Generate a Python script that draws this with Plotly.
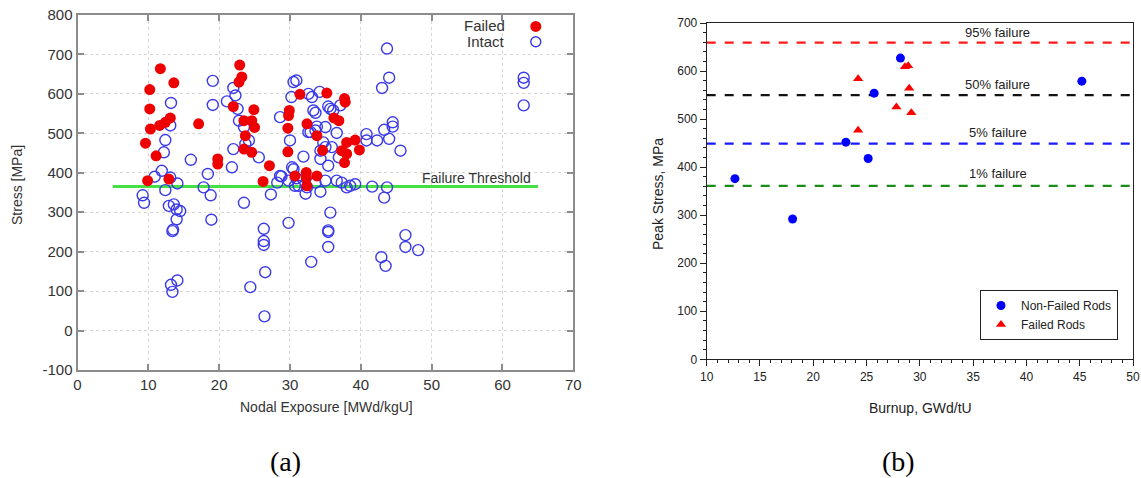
import plotly.graph_objects as go

# ---------------- Panel (a) data ----------------
failed_exposure = [11.7, 10.2, 13.6, 10.2, 10.3, 11.6, 12.4, 13.1, 9.6, 11.1, 17.1, 19.8, 19.8, 9.9, 12.9,
                   22.9, 23.2, 22.8, 22.0, 24.9, 23.5, 24.6, 23.7, 25.0, 23.5, 24.6, 26.2, 27.1, 29.9, 29.8,
                   29.7, 29.7, 31.4, 35.2, 32.4, 33.8, 34.6, 30.7, 32.3, 32.3, 33.8, 32.4, 36.2, 36.9, 37.7,
                   37.8, 38.0, 39.2, 37.3, 38.0, 37.7, 39.8]
failed_stress = [664, 611, 628, 562, 511, 520, 528, 539, 475, 443, 524, 435, 422, 380, 384,
                 673, 643, 630, 568, 560, 532, 532, 494, 515, 460, 452, 378, 418, 558, 545,
                 513, 453, 599, 602, 524, 494, 457, 392, 401, 388, 392, 367, 539, 532, 588,
                 579, 477, 483, 456, 448, 426, 458]

intact_exposure = [9.2, 9.4, 10.9, 11.9, 12.2, 12.4, 13.1, 13.2, 12.4, 12.9, 13.6, 14.0, 14.5, 14.0, 13.4,
                   13.5, 14.1, 13.1, 16.0, 17.8, 18.4, 18.8, 18.9, 19.1, 19.1, 21.1, 22.0, 22.3, 22.6, 22.8,
                   23.5, 22.0, 21.8, 24.2, 23.7, 25.6, 23.5, 26.3, 27.3, 28.2, 28.8, 28.6, 30.0, 30.2, 30.5,
                   30.9, 30.3, 29.8, 30.7, 13.2, 14.1, 13.4, 26.3, 26.3, 26.5, 24.4, 26.4, 35.4, 35.4, 35.4,
                   33.0, 42.9, 43.5, 46.3, 46.3, 48.1, 43.7, 44.0, 43.0, 63.0, 63.0, 63.0, 44.5, 44.5, 43.3,
                   40.8, 40.8, 42.3, 44.0, 45.6, 43.7, 43.3, 41.6, 35.7, 32.6, 33.1, 34.2, 33.3, 33.6, 35.4,
                   35.7, 36.1, 37.1, 32.6, 33.8, 35.0, 36.6, 34.7, 35.9, 31.9, 34.3, 35.4, 36.9, 30.5, 28.6,
                   29.8, 31.2, 32.4, 33.6, 34.3, 35.0, 36.6, 37.3, 38.0, 38.5, 39.2, 32.2, 30.9, 34.3, 35.0,
                   32.9, 33.6]
intact_stress = [343, 324, 390, 405, 452, 483, 520, 577, 356, 316, 320, 307, 303, 282, 252,
                 256, 373, 388, 433, 363, 397, 343, 281, 633, 572, 581, 615, 596, 562, 532,
                 516, 460, 414, 482, 473, 439, 324, 258, 345, 375, 391, 541, 482, 592, 630,
                 634, 414, 273, 367, 116, 127, 98, 227, 217, 148, 110, 36, 254, 250, 212,
                 174, 186, 164, 242, 212, 204, 715, 641, 615, 641, 628, 571, 528, 517, 509,
                 498, 482, 482, 486, 456, 363, 337, 365, 299, 600, 592, 605, 558, 552, 568,
                 562, 558, 571, 503, 517, 516, 501, 477, 465, 441, 435, 418, 439, 409, 392,
                 380, 367, 363, 375, 352, 380, 380, 375, 363, 367, 371, 347, 386, 456, 465,
                 503, 507]

threshold_x = [5, 65]
threshold_y = [365, 365]

stress_ticks = [-100, 0, 100, 200, 300, 400, 500, 600, 700, 800]
stress_tick_labels = ["-100", "0", "100", "200", "300", "400", "500", "600", "700", "800"]

# ---------------- Panel (b) data ----------------
nonfailed_burnup = [12.65, 18.06, 23.06, 25.15, 25.71, 28.18, 45.2]
nonfailed_stress = [376, 292, 452, 418, 554, 627, 579]
failedrod_burnup = [24.21, 24.21, 27.8, 28.6, 28.9, 29.0, 29.2]
failedrod_stress = [584, 477, 525, 609, 611, 564, 513]

limit_labels = ["95% failure", "50% failure", "5% failure", "1% failure"]
limit_values = [659, 550, 449, 361]
limit_colors = ["#ff1a1a", "#111111", "#1a1aff", "#1a8c1a"]
limit_label_values = [680, 571, 473, 387]

FONT = "Liberation Sans"

fig = go.Figure()

# panel (a) traces
fig.add_trace(go.Scatter(x=threshold_x, y=threshold_y, mode="lines",
                         line=dict(color="#44e044", width=3), xaxis="x", yaxis="y", showlegend=False))
fig.add_trace(go.Scatter(x=intact_exposure, y=intact_stress, mode="markers", name="Intact",
                         marker=dict(symbol="circle-open", size=11, color="#3a3ae8", line=dict(width=1.4)),
                         xaxis="x", yaxis="y", showlegend=False))
fig.add_trace(go.Scatter(x=failed_exposure, y=failed_stress, mode="markers", name="Failed",
                         marker=dict(symbol="circle", size=11, color="#ee0000"),
                         xaxis="x", yaxis="y", showlegend=False))

# panel (b) traces
for lab, val, col in zip(limit_labels, limit_values, limit_colors):
    fig.add_trace(go.Scatter(x=[10, 50], y=[val, val], mode="lines",
                             line=dict(color=col, width=2.2, dash="dash"),
                             xaxis="x2", yaxis="y2", showlegend=False))
fig.add_trace(go.Scatter(x=nonfailed_burnup, y=nonfailed_stress, mode="markers", name="Non-Failed Rods",
                         marker=dict(symbol="circle", size=9, color="#0000ff"),
                         xaxis="x2", yaxis="y2", legend="legend2"))
fig.add_trace(go.Scatter(x=failedrod_burnup, y=failedrod_stress, mode="markers", name="Failed Rods",
                         marker=dict(symbol="triangle-up", size=9, color="#ff0000"),
                         xaxis="x2", yaxis="y2", legend="legend2"))

W, H = 1141, 478
def px(x): return x / W
def py(y): return 1 - y / H

def ann(text, x, y, xref="paper", yref="paper", xanchor="center", size=14, color="#333",
        family=FONT, angle=0):
    return dict(text=text, x=x, y=y, xref=xref, yref=yref, xanchor=xanchor, yanchor="middle",
                textangle=angle, showarrow=False, font=dict(family=family, size=size, color=color))

annotations = [
    ann("Stress [MPa]", px(17), py(185), angle=-90),
    ann("Nodal Exposure [MWd/kgU]", px(326), py(407)),
    ann("Failure Threshold", 56.3, 387, xref="x", yref="y"),
    ann("Failed", px(507), py(26), xanchor="right", size=15),
    ann("Intact", px(507), py(42), xanchor="right", size=15),
    ann("(a)", px(285), py(461), size=28, color="#000", family="Liberation Serif"),
    ann("Peak Stress, MPa", px(658), py(194), color="#222", angle=-90),
    ann("Burnup, GWd/tU", px(920), py(408), color="#222"),
    ann("(b)", px(898), py(461), size=28, color="#000", family="Liberation Serif"),
]
for lab, lv in zip(limit_labels, limit_label_values):
    annotations.append(ann(lab, 37.3, lv, xref="x2", yref="y2", size=13, color="#222"))

# legend symbols for panel (a)
shapes = [
    dict(type="circle", xref="x", yref="y", xsizemode="pixel", ysizemode="pixel",
         xanchor=64.7, yanchor=771, x0=-5.5, x1=5.5, y0=-5.5, y1=5.5,
         fillcolor="#ee0000", line=dict(width=0)),
    dict(type="circle", xref="x", yref="y", xsizemode="pixel", ysizemode="pixel",
         xanchor=64.7, yanchor=732, x0=-5, x1=5, y0=-5, y1=5,
         fillcolor="rgba(0,0,0,0)", line=dict(color="#3a3ae8", width=1.4)),
]

fig.update_layout(
    width=W, height=H,
    margin=dict(l=0, r=0, t=0, b=0),
    paper_bgcolor="white", plot_bgcolor="white",
    annotations=annotations, shapes=shapes,
    xaxis=dict(domain=[px(77.5), px(573.3)], range=[0, 70], dtick=10, tick0=0,
               showline=True, linecolor="#8c8c8c", linewidth=2, mirror="ticks",
               ticks="inside", ticklen=6, tickcolor="#8c8c8c", tickwidth=1.5,
               showgrid=True, gridcolor="#d6d6d6", griddash="dot", gridwidth=1,
               zeroline=False, tickfont=dict(family=FONT, size=15, color="#333"),
               anchor="y", automargin=False),
    yaxis=dict(domain=[py(370), py(15)], range=[-100, 800],
               tickmode="array", tickvals=stress_ticks, ticktext=stress_tick_labels,
               showline=True, linecolor="#8c8c8c", linewidth=2, mirror="ticks",
               ticks="inside", ticklen=6, tickcolor="#8c8c8c", tickwidth=1.5,
               showgrid=True, gridcolor="#d6d6d6", griddash="dot", gridwidth=1,
               zeroline=False, tickfont=dict(family=FONT, size=15, color="#333"),
               anchor="x", automargin=False),
    xaxis2=dict(domain=[px(706.7), px(1133)], range=[10, 50], dtick=5, tick0=10,
                showline=True, linecolor="#222", linewidth=1, mirror=True,
                ticks="outside", ticklen=6, tickcolor="#222",
                minor=dict(ticks="outside", dtick=1, ticklen=3, tickcolor="#222", showgrid=False),
                showgrid=False, zeroline=False, tickfont=dict(family=FONT, size=12, color="#222"),
                anchor="y2", automargin=False),
    yaxis2=dict(domain=[py(359.3), py(23)], range=[0, 700], dtick=100, tick0=0,
                showline=True, linecolor="#222", linewidth=1, mirror=True,
                ticks="outside", ticklen=6, tickcolor="#222",
                minor=dict(ticks="outside", dtick=20, ticklen=3, tickcolor="#222", showgrid=False),
                showgrid=False, zeroline=False, tickfont=dict(family=FONT, size=12, color="#222"),
                anchor="x2", automargin=False),
    legend2=dict(x=px(980), y=py(290), xanchor="left", yanchor="top",
                 bordercolor="#222", borderwidth=1, bgcolor="white",
                 font=dict(family=FONT, size=12, color="#222"),
                 tracegroupgap=0, itemwidth=30),
)

fig.write_html("out.html")
